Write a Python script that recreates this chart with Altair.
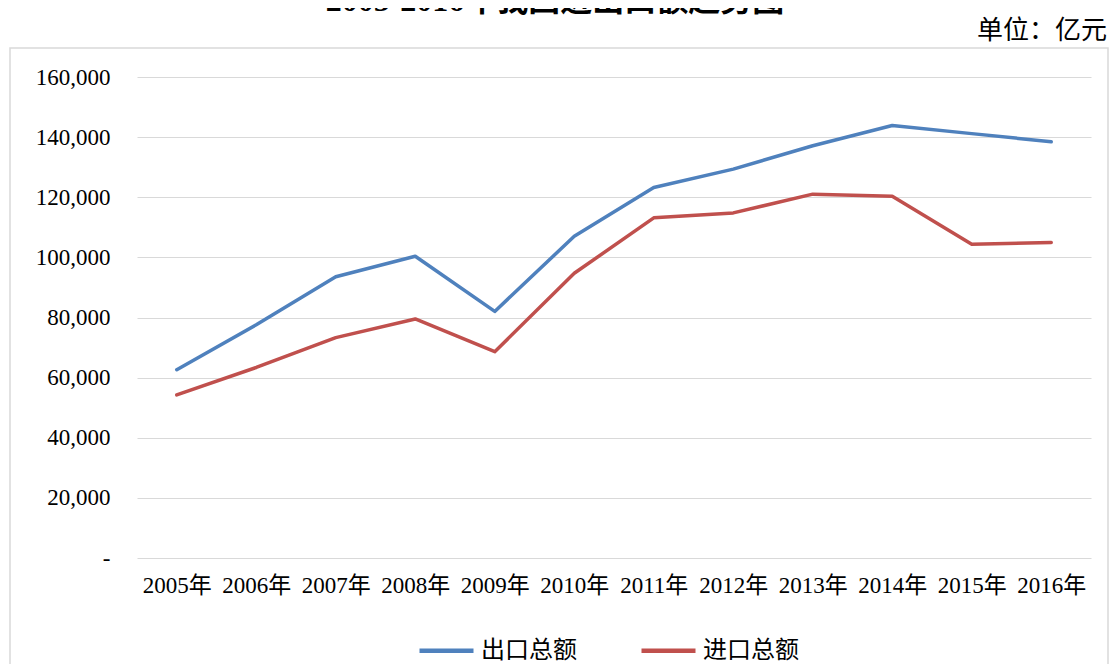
import altair as alt
import pandas as pd

# ---- data ----
years = ["2005年", "2006年", "2007年", "2008年", "2009年", "2010年",
         "2011年", "2012年", "2013年", "2014年", "2015年", "2016年"]
exports = [62648, 77594, 93563, 100395, 82030, 107023,
           123241, 129359, 137131, 143884, 141167, 138455]
imports = [54274, 63377, 73300, 79527, 68618, 94700,
           113161, 114801, 121037, 120358, 104336, 104967]
series_names = ["出口总额", "进口总额"]
series_colors = ["#4F81BD", "#C0504D"]
y_ticks = [0, 20000, 40000, 60000, 80000, 100000, 120000, 140000, 160000]
title_text = "2005-2016年我国进出口额趋势图"
unit_text = "单位：亿元"

df = pd.DataFrame({
    "年份": years * 2,
    "金额": exports + imports,
    "类别": [series_names[0]] * len(years) + [series_names[1]] * len(years),
})
one = pd.DataFrame({"k": [0]})

SERIF = "Liberation Serif, Noto Sans CJK SC"
CJK = "Noto Sans CJK SC"

frame = alt.Chart(one).mark_rect(fillOpacity=0, stroke="#D9D9D9", strokeWidth=1.5).encode(
    x=alt.value(-127), x2=alt.value(971), y=alt.value(-29), y2=alt.value(700)
)

lines = alt.Chart(df).mark_line(strokeWidth=3.5, strokeJoin="round", strokeCap="round").encode(
    x=alt.X("年份:O", sort=years,
            scale=alt.Scale(type="point", padding=0.5),
            axis=alt.Axis(title=None, labelAngle=0, domain=False, ticks=False,
                          labelPadding=16, labelFont=SERIF, labelFontSize=23,
                          labelColor="#000000")),
    y=alt.Y("金额:Q",
            scale=alt.Scale(domain=[0, 160000], nice=False),
            axis=alt.Axis(title=None, values=y_ticks,
                          labelExpr="datum.value == 0 ? '-' : format(datum.value, ',')",
                          domain=False, ticks=False, grid=True,
                          gridColor="#D9D9D9", gridWidth=1.2,
                          labelPadding=27, labelFont=SERIF, labelFontSize=23,
                          labelColor="#000000")),
    color=alt.Color("类别:N", sort=series_names,
                    scale=alt.Scale(domain=series_names, range=series_colors),
                    legend=alt.Legend(title=None, orient="none", legendX=280, legendY=544,
                                      direction="horizontal", symbolType="stroke",
                                      symbolSize=2916, symbolStrokeWidth=4.5,
                                      labelFont=CJK, labelFontSize=24, labelOffset=5,
                                      columnPadding=55, padding=0, labelColor="#000000")),
)

unit = alt.Chart(one).mark_text(text=unit_text, font=CJK, fontSize=26, align="right",
                                baseline="middle", color="#000000").encode(
    x=alt.value(970), y=alt.value(-46)
)

title = alt.Chart(one).mark_text(text=title_text, font=SERIF, fontSize=32, fontWeight="bold",
                                 align="center", baseline="alphabetic", color="#000000").encode(
    x=alt.value(418), y=alt.value(-66)
)

chart = alt.layer(frame, lines, unit, title).properties(
    width=954, height=481,
    autosize=alt.AutoSizeParams(type="none"),
    padding={"left": 129, "top": 69, "right": 19, "bottom": 106},
    background="#FFFFFF",
).configure_view(strokeWidth=0)

chart.save("out.html", embed_options={"renderer": "svg", "actions": False})
